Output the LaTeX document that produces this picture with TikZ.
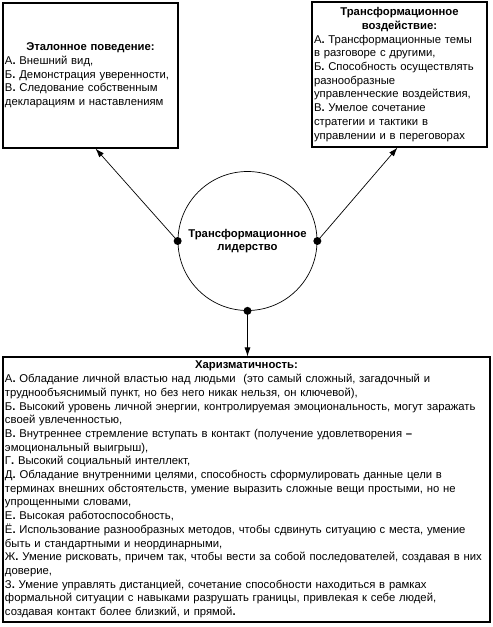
\documentclass[tikz,border=0pt]{standalone}
\usepackage{fontspec}
\setmainfont{Liberation Sans}
\usetikzlibrary{arrows.meta,arrows}
\newcommand{\boxtitle}[1]{\makebox[\hsize]{\bfseries #1}}
\newcommand{\itm}[1]{#1\textbf{.}}

\begin{document}
\begin{tikzpicture}[x=1pt,y=-1pt,
    txtbox/.style={draw, line width=1.1pt, inner xsep=2pt, inner ysep=0pt, align=left,
      font=\fontsize{11.3}{13.7}\selectfont},
    link/.style={line width=0.7pt, -{Latex[length=9pt,width=6pt]}},
    dot/.style={fill=black}]
    \useasboundingbox (0,0) rectangle (493,627);
    % Behaviour standard
    \node[txtbox, text width=171pt, minimum width=175pt, minimum height=145pt] (etalon) at (90.5,75.5)
      {\boxtitle{Эталонное поведение:}\\
       \itm{А} Внешний вид,\\
       \itm{Б} Демонстрация уверенности,\\
       \itm{В} Следование собственным\\
       декларациям и наставлениям};
    % Transformational influence
    \node[txtbox, text width=171pt, minimum width=175pt, minimum height=145pt] (vozd) at (399.5,74.5)
      {\boxtitle{Трансформационное}\\
       \boxtitle{воздействие:}\\
       \itm{А} Трансформационные темы\\
       в разговоре с другими,\\
       \itm{Б} Способность осуществлять\\
       разнообразные\\
       управленческие воздействия,\\
       \itm{В} Умелое сочетание\\
       стратегии и тактики в\\
       управлении и в переговорах};
    % Leadership
    \node[draw, circle, line width=0.7pt, minimum size=139pt, inner sep=0pt, align=center,
      font=\fontsize{11.3}{13.7}\selectfont\bfseries] (lider) at (247.5,241)
      {Трансформационное\\лидерство};
    % Charisma
    \node[txtbox, text width=483pt, minimum width=487pt, minimum height=265pt] (harizma) at (246.5,489.5)
      {\boxtitle{Харизматичность:}\\
       \itm{А} Обладание личной властью над людьми~ (это самый сложный, загадочный и\\
       труднообъяснимый пункт, но без него никак нельзя, он ключевой),\\
       \itm{Б} Высокий уровень личной энергии, контролируемая эмоциональность, могут заражать\\
       своей увлеченностью,\\
       \itm{В} Внутреннее стремление вступать в контакт (получение удовлетворения \textbf{–}\\
       эмоциональный выигрыш),\\
       \itm{Г} Высокий социальный интеллект,\\
       \itm{Д} Обладание внутренними целями, способность сформулировать данные цели в\\
       терминах внешних обстоятельств, умение выразить сложные вещи простыми, но не\\
       упрощенными словами,\\
       \itm{Е} Высокая работоспособность,\\
       \itm{Ё} Использование разнообразных методов, чтобы сдвинуть ситуацию с места, умение\\
       быть и стандартными и неординарными,\\
       \itm{Ж} Умение рисковать, причем так, чтобы вести за собой последователей, создавая в них\\
       доверие,\\
       \itm{З} Умение управлять дистанцией, сочетание способности находиться в рамках\\
       формальной ситуации с навыками разрушать границы, привлекая к себе людей,\\
       создавая контакт более близкий, и прямой\textbf{.}};
    % Links
    \draw[link] (lider.west) -- ([xshift=5pt]etalon.south);
    \draw[link] (lider.east) -- ([xshift=-2pt]vozd.south);
    \draw[link] (lider.south) -- (harizma.north -| lider.south);
    \fill[dot] (lider.west) circle (4pt);
    \fill[dot] (lider.east) circle (4pt);
    \fill[dot] (lider.south) circle (4pt);
\end{tikzpicture}
\end{document}
